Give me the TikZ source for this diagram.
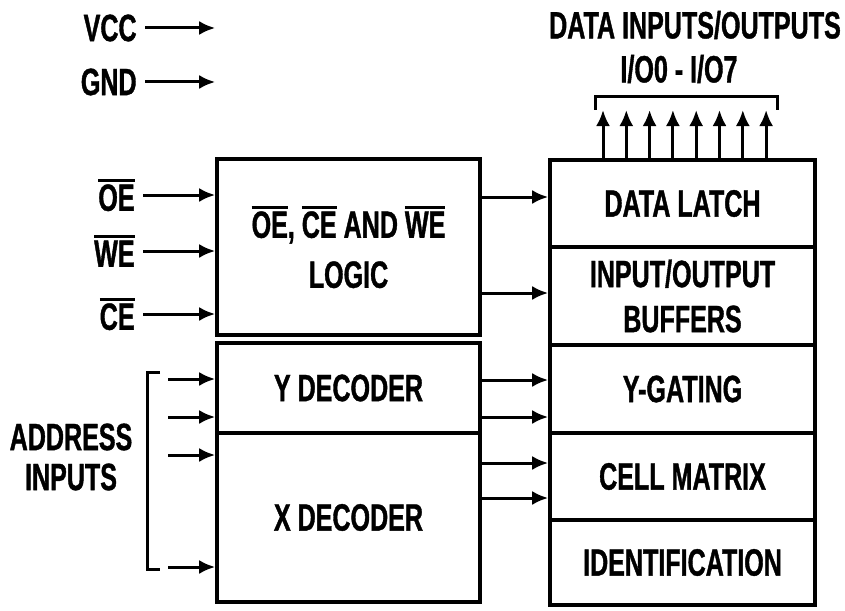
\documentclass[tikz,border=0pt]{standalone}
\usepackage{fontspec}
\setmainfont{Liberation Sans}[FakeStretch=0.66,FakeBold=1]
\usetikzlibrary{arrows.meta,positioning}
\newcommand{\nbar}[1]{\leavevmode\vbox{\hrule height 1.5pt\kern 1.2pt\hbox{#1}}}
\tikzset{
  every node/.style={font=\fontsize{19pt}{24pt}\selectfont\bfseries, text=black},
  lblock/.style={draw=black, line width=1.8pt, inner sep=0pt, align=center, minimum width=131.5pt},
  rblock/.style={draw=black, line width=1.8pt, inner sep=0pt, align=center, minimum width=132.5pt},
  pinlabel/.style={inner sep=4pt, anchor=east},
  sig/.style={-{Latex[length=8pt,width=7pt]}, draw=black, line width=1.5pt},
  brace/.style={draw=black, line width=1.5pt},
}
\begin{document}
\begin{tikzpicture}[x=0.5pt,y=-0.5pt]
  \useasboundingbox (0,0) rectangle (845,610);
  % control and decoder blocks
  \node[lblock, minimum height=88pt, font=\fontsize{19pt}{25pt}\selectfont\bfseries] (logic) at (348.5,247) {\nbar{OE}, \nbar{CE} AND \nbar{WE}\\LOGIC};
  \node[lblock, minimum height=45pt] (ydec) at (348.5,388) {Y DECODER};
  \node[lblock, minimum height=84.5pt] (xdec) at (348.5,517.5) {X DECODER};
  % memory column
  \node[rblock, minimum height=43.5pt] (latch) at (682.5,203.5) {DATA LATCH};
  \node[rblock, minimum height=49pt, font=\fontsize{19pt}{22.5pt}\selectfont\bfseries] (buffers) at (682.5,296) {INPUT/OUTPUT\\BUFFERS};
  \node[rblock, minimum height=44pt] (ygate) at (682.5,389) {Y-GATING};
  \node[rblock, minimum height=43.5pt] (cell) at (682.5,476.5) {CELL MATRIX};
  \node[rblock, minimum height=42.5pt] (ident) at (682.5,562.5) {IDENTIFICATION};
  % supply and control pins
  \foreach \nm/\txt/\y in {vcc/VCC/28, gnd/GND/82}{
    \node[pinlabel] (\nm) at (145,\y) {\txt};
    \draw[sig] (\nm.east) -- (\nm.east -| logic.west);
  }
  \foreach \nm/\txt/\y in {oe/OE/195, we/WE/251, ce/CE/314}{
    \node[pinlabel] (\nm) at (143,\y) {\nbar{\txt}};
    \draw[sig] (\nm.east) -- (\nm.east -| logic.west);
  }
  % address inputs
  \node[font=\fontsize{19pt}{20pt}\selectfont\bfseries, align=center] (addr) at (71,457) {ADDRESS\\INPUTS};
  \draw[brace] (160,372) -| (147,569) -- (160,569);
  \foreach \i/\y in {1/379,2/417,3/455,4/567}{
    \coordinate (a\i) at (168,\y);
    \draw[sig] (a\i) -- (a\i -| ydec.west);
  }
  % block to block
  \draw[sig] (logic.east |- 0,197) -- (latch.west |- 0,197);
  \draw[sig] (logic.east |- 0,293) -- (buffers.west |- 0,293);
  \foreach \y in {380,417}
    \draw[sig] (ydec.east |- 0,\y) -- (ygate.west |- 0,\y);
  \foreach \y in {463,498}
    \draw[sig] (xdec.east |- 0,\y) -- (cell.west |- 0,\y);
  % data bus
  \node (dio) at (695,25) {DATA INPUTS/OUTPUTS};
  \node (iorange) at (679,69) {I/O0 - I/O7};
  \draw[brace] (595,110) |- (777,97) -- (777,110);
  \foreach \i in {0,...,7}
    \draw[sig] (latch.north -| 603+23.3*\i,0) -- (603+23.3*\i,110);
\end{tikzpicture}
\end{document}
